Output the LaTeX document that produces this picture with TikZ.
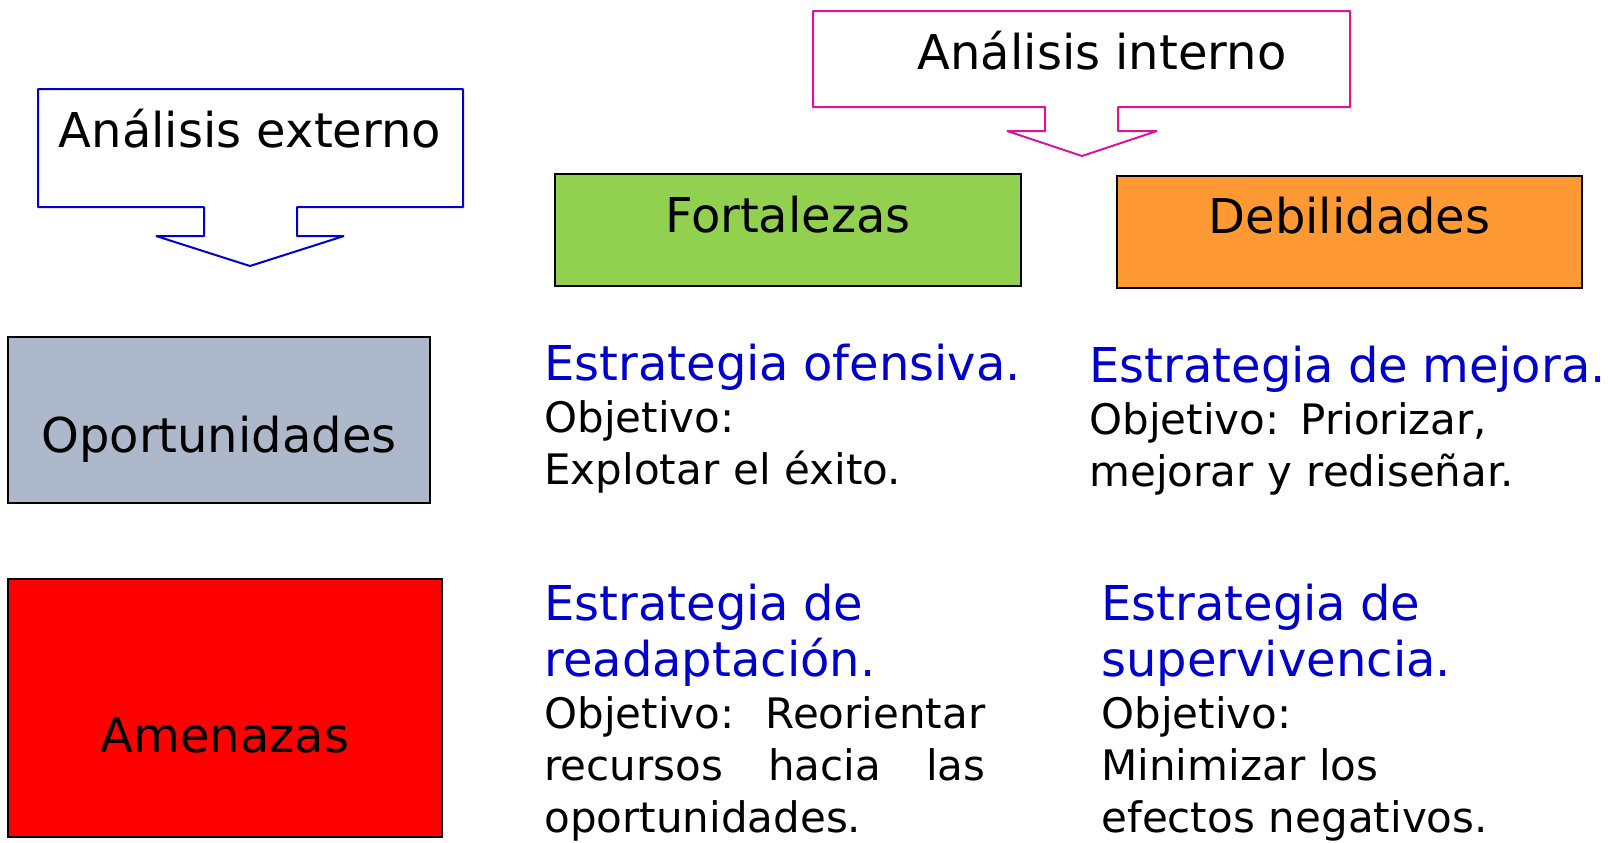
\documentclass[tikz,border=0pt]{standalone}
\usepackage{fontspec}
\setmainfont{DejaVu Sans}
\usepackage{xcolor}
\usetikzlibrary{positioning}
\definecolor{stratblue}{RGB}{0,0,204}
\definecolor{intmagenta}{RGB}{222,18,150}
\definecolor{fortgreen}{RGB}{146,208,80}
\definecolor{deborange}{RGB}{255,153,51}
\definecolor{oportgray}{RGB}{173,185,202}
\newcommand{\stratTitle}[1]{{\color{stratblue}\fontsize{24}{28}\selectfont #1}}

\begin{document}
\begin{tikzpicture}[x=0.5pt,y=-0.5pt,
  swot box/.style={rectangle,draw=black,line width=1pt,font=\fontsize{24}{28}\selectfont},
  call line/.style={line width=1pt,line join=bevel},
  call text/.style={anchor=base,inner sep=0pt,font=\fontsize{24}{28}\selectfont},
  strat text/.style={anchor=base west,align=left,inner sep=0pt,font=\fontsize{21}{26}\selectfont}]

  \useasboundingbox (0,0) rectangle (1608,842);

  \draw[call line,stratblue] (38,89) -- (463,89) -- (463,207) -- (297,207) -- (297,236) -- (344,236)
    -- (250,266) -- (156,236) -- (204,236) -- (204,207) -- (38,207) -- cycle;
  \node[call text] (externo) at (250,147) {Análisis externo};

  \draw[call line,intmagenta] (813,11) -- (1350,11) -- (1350,107) -- (1118,107) -- (1118,131) -- (1157,131)
    -- (1082,156) -- (1007,131) -- (1045,131) -- (1045,107) -- (813,107) -- cycle;
  \node[call text] (interno) at (1102,69) {Análisis interno};

  \node[swot box,fill=fortgreen,minimum width=233pt,minimum height=56pt,text height=18pt,text depth=16pt] (fortalezas) at (788,230) {Fortalezas};
  \node[swot box,fill=deborange,minimum width=232.5pt,minimum height=56pt,text height=18pt,text depth=17pt] (debilidades) [right=47pt of fortalezas,yshift=-1pt] {Debilidades};
  \node[swot box,fill=oportgray,minimum width=211pt,minimum height=83pt,text height=32pt,text depth=0pt] (oportunidades) at (219,420) {Oportunidades};
  \node[swot box,fill=red,minimum width=217pt,minimum height=129pt,text height=44pt,text depth=0pt] (amenazas) at (225,708) {Amenazas};

  \node[strat text,text width=240pt] (ofensiva) at (544,380) {\stratTitle{Estrategia ofensiva.}\\ Objetivo:\\ Explotar el éxito.};
  \node[strat text,text width=262pt] (mejora) at (1089,382) {\stratTitle{Estrategia de mejora.}\\ Objetivo: Priorizar,\\ mejorar y rediseñar.};
  \node[strat text,text width=220.5pt] (readaptacion) at (544,620) {\stratTitle{Estrategia de}\\[2pt] \stratTitle{readaptación.}\\
    Objetivo:\hfill Reorientar\\ recursos\hfill hacia\hfill las\\ oportunidades.};
  \node[strat text,text width=200pt] (supervivencia) at (1101,620) {\stratTitle{Estrategia de}\\[2pt] \stratTitle{supervivencia.}\\
    Objetivo:\\ Minimizar los\\ efectos negativos.};
\end{tikzpicture}
\end{document}
